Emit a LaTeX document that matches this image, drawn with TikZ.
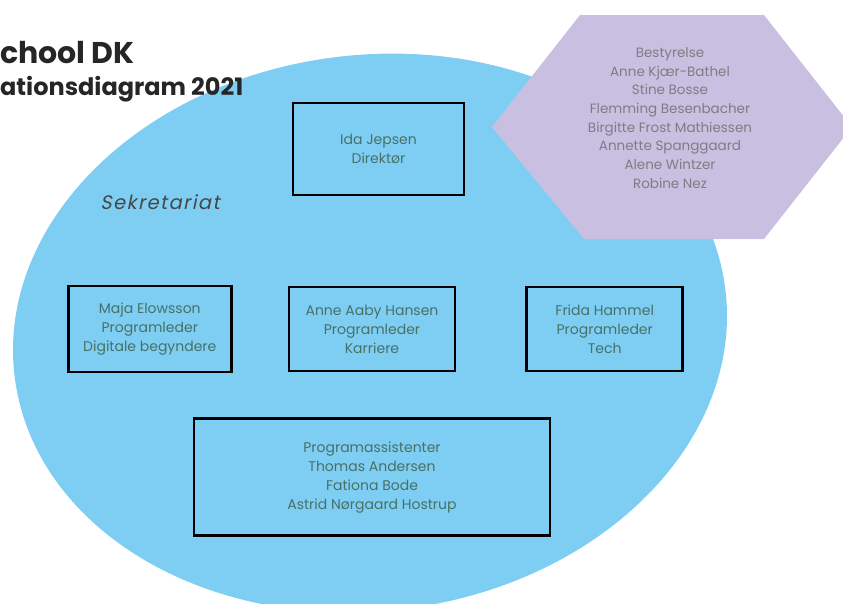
\documentclass[tikz,border=0pt]{standalone}
\usepackage{fontspec}
\setmainfont{Poppins}
\newfontfamily\slantfont[FakeSlant=0.2,LetterSpace=7]{Poppins}
\usetikzlibrary{positioning}

\definecolor{secblue}{RGB}{126,206,244}
\definecolor{boardlilac}{RGB}{201,192,225}
\definecolor{titlegrey}{RGB}{38,38,38}
\definecolor{namegreen}{RGB}{72,112,102}
\definecolor{boardgrey}{RGB}{125,125,132}

\begin{document}
\begin{tikzpicture}[
    x=1pt, y=-1pt,
    person/.style={rectangle, draw=black, line width=2.7pt, align=center, text=namegreen, inner sep=0pt, font=\fontsize{14}{19}\selectfont},
    heading/.style={anchor=base west, inner sep=0pt, text=titlegrey},
    boardtext/.style={align=center, text=boardgrey, font=\fontsize{13.5}{18.7}\selectfont},
    unitlabel/.style={text=titlegrey!85, font=\slantfont\fontsize{19.5}{22}\selectfont}
  ]
    \useasboundingbox (0,0) rectangle (843,603);
    \clip (0,0) rectangle (843,603);

    % background shapes
    \fill[secblue, rotate around={7:(370,333)}] (370,333) ellipse [x radius=358, y radius=278];
    \fill[boardlilac] (580,15) -- (764,15) -- (852,127) -- (764,239) -- (584,239) -- (492,127) -- cycle;

    \node[heading, font=\bfseries\fontsize{30}{36}\selectfont] (title) at (0,63) {chool DK};
    \node[heading, font=\bfseries\fontsize{24}{28}\selectfont] (subtitle) at (0,95) {ationsdiagram 2021};

    \node[boardtext] (board) at (670,118) {Bestyrelse\\Anne Kjær-Bathel\\Stine Bosse\\Flemming Besenbacher\\Birgitte Frost Mathiessen\\Annette Spanggaard\\Alene Wintzer\\Robine Nez};

    \node[unitlabel] (sekr) at (160,202) {Sekretariat};

    \node[person, minimum width=171pt, minimum height=92pt] (ida) at (378.5,149) {Ida Jepsen\\Direktør};
    \node[person, minimum width=166pt, minimum height=84pt] (anne) at (372,329) {Anne Aaby Hansen\\Programleder\\Karriere};
    \node[person, minimum width=163pt, minimum height=86pt, left=55pt of anne] (maja) {Maja Elowsson\\Programleder\\Digitale begyndere};
    \node[person, minimum width=156pt, minimum height=84pt, right=69pt of anne] (frida) {Frida Hammel\\Programleder\\Tech};
    \node[person, minimum width=356pt, minimum height=117pt, below=45pt of anne] (assist) {Programassistenter\\Thomas Andersen\\Fationa Bode\\Astrid Nørgaard Hostrup};
  \end{tikzpicture}
\end{document}
